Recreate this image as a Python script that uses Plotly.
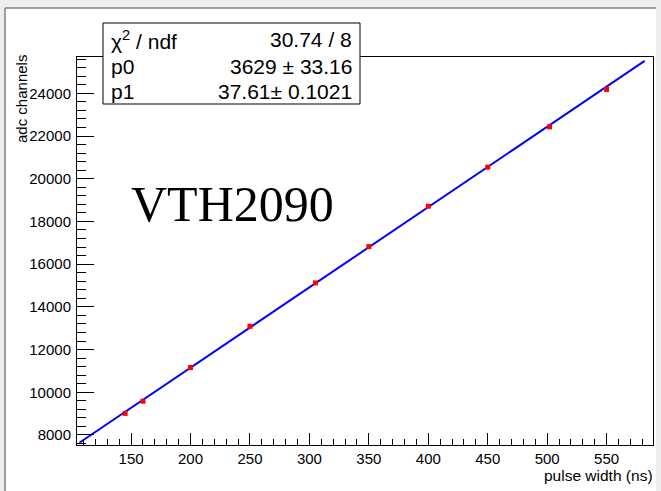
import numpy as np
import plotly.graph_objects as go

# ---- data ----
pulse_width_ns = [145, 160, 200, 250, 305, 350, 400, 450, 502, 550]
adc_channels = [9010, 9580, 11160, 13090, 15120, 16820, 18710, 20540, 22430, 24180]

fit_p0 = 3629.0
fit_p1 = 37.61
fit_range = [106.5, 582.0]

stats_labels = ["χ<sup>2</sup> / ndf", "p0", "p1"]
stats_values = ["30.74 / 8", "3629 ± 33.16", "37.61± 0.1021"]

x_range = [104.5, 589.0]
y_range = [7530, 25700]

# ---- layout geometry (pixels) ----
W, H = 661, 491
L, R, T, B = 77, 653, 57, 445   # plot frame


def px(xp):
    return (xp - L) / (R - L)


def py(yp):
    return (B - yp) / (B - T)


fit_x = np.linspace(fit_range[0], fit_range[1], 50)
fit_y = fit_p0 + fit_p1 * fit_x

fig = go.Figure()
fig.add_trace(go.Scatter(x=fit_x, y=fit_y, mode="lines",
                         line=dict(color="#0000ff", width=2), hoverinfo="skip"))
fig.add_trace(go.Scatter(x=pulse_width_ns, y=adc_channels, mode="markers",
                         marker=dict(symbol="square", size=5, color="#ff0000",
                                     line=dict(width=0))))

font_main = "Liberation Sans, Arial, sans-serif"

fig.update_layout(
    width=W, height=H,
    margin=dict(l=L, r=W - R, t=T, b=H - B, pad=0),
    paper_bgcolor="#eeeeee",
    plot_bgcolor="white",
    showlegend=False,
    font=dict(family=font_main, size=15, color="black"),
)

axis_common = dict(
    showgrid=False, zeroline=False,
    showline=True, linecolor="black", linewidth=1, mirror=True,
    ticks="inside", tickcolor="black", tickwidth=1,
    tickfont=dict(family=font_main, size=15, color="black"),
)
fig.update_xaxes(range=x_range, tickmode="linear", tick0=0, dtick=50, ticklen=12,
                 tickformat="d",
                 minor=dict(dtick=10, ticklen=6, ticks="inside", tickcolor="black"),
                 **axis_common)
fig.update_yaxes(range=y_range, tickmode="linear", tick0=0, dtick=2000, ticklen=17,
                 tickformat="d",
                 minor=dict(dtick=400, ticklen=9, ticks="inside", tickcolor="black"),
                 ticklabelstandoff=2,
                 **axis_common)

shapes = []
# canvas (white) inside window border
shapes.append(dict(type="rect", xref="paper", yref="paper",
                   x0=px(5), x1=px(656), y0=py(491), y1=py(8),
                   fillcolor="white", line=dict(width=0), layer="below"))
shapes.append(dict(type="line", xref="paper", yref="paper",
                   x0=px(5), x1=px(656), y0=py(8), y1=py(8),
                   line=dict(color="#808080", width=1.5), layer="below"))
shapes.append(dict(type="line", xref="paper", yref="paper",
                   x0=px(5), x1=px(5), y0=py(8), y1=py(491),
                   line=dict(color="#808080", width=1.5), layer="below"))
# stats box
shapes.append(dict(type="rect", xref="paper", yref="paper",
                   x0=px(103), x1=px(360), y0=py(104), y1=py(23),
                   fillcolor="white", line=dict(color="black", width=1), layer="above"))
fig.update_layout(shapes=shapes)

ann = []
row_y = [40, 66, 91]
for lab, val, ry in zip(stats_labels, stats_values, row_y):
    ann.append(dict(text=lab, xref="paper", yref="paper", x=px(109), y=py(ry),
                    xanchor="left", yanchor="middle", showarrow=False,
                    font=dict(family=font_main, size=21, color="black")))
    ann.append(dict(text=val, xref="paper", yref="paper", x=px(354), y=py(ry),
                    xanchor="right", yanchor="middle", showarrow=False,
                    font=dict(family=font_main, size=21, color="black")))

ann.append(dict(text="VTH2090", xref="paper", yref="paper", x=px(129), y=py(204),
                xanchor="left", yanchor="middle", showarrow=False,
                font=dict(family="Liberation Serif, Times New Roman, serif", size=50,
                          color="black")))
ann.append(dict(text="pulse width (ns)", xref="paper", yref="paper", x=px(655), y=py(475),
                xanchor="right", yanchor="middle", showarrow=False,
                font=dict(family=font_main, size=15.5, color="black")))
ann.append(dict(text="adc channels", xref="paper", yref="paper", x=px(21), y=py(53),
                xanchor="center", yanchor="top", textangle=-90, showarrow=False,
                font=dict(family=font_main, size=15, color="black")))
fig.update_layout(annotations=ann)

fig.write_html("out.html")
